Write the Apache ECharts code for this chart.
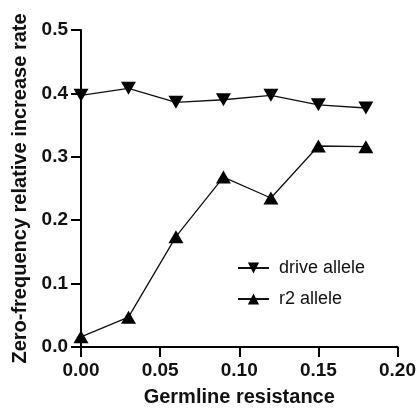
<!DOCTYPE html>
<html>
<head>
<meta charset="utf-8">
<script src="https://cdn.jsdelivr.net/npm/echarts@6/dist/echarts.min.js"></script>
<style>
  html, body { margin: 0; padding: 0; background: #fff; }
  #chart { width: 419px; height: 414px; }
</style>
</head>
<body>
<div id="chart"></div>
<script>
// Germline resistance levels (x) and the two allele series (y)
const resistance = [0.00, 0.03, 0.06, 0.09, 0.12, 0.15, 0.18];
const driveAllele = [0.397, 0.408, 0.386, 0.390, 0.397, 0.382, 0.377];
const r2Allele = [0.016, 0.047, 0.174, 0.268, 0.235, 0.317, 0.316];

const seriesNames = ['drive allele', 'r2 allele'];
const downTriangle = 'path://M0,0 L10,0 L5,9 Z';
const upTriangle = 'path://M5,0 L10,9 L0,9 Z';

const font = 'Liberation Sans, Arial, sans-serif';
const chart = echarts.init(document.getElementById('chart'));

function pairs(ys) {
  return resistance.map((x, i) => [x, ys[i]]);
}

function axis(isX) {
  return {
    type: 'value',
    min: 0,
    max: isX ? 0.2 : 0.5,
    interval: isX ? 0.05 : 0.1,
    name: isX ? 'Germline resistance' : 'Zero-frequency relative increase rate',
    nameLocation: 'middle',
    nameGap: isX ? 40 : 51,
    nameTextStyle: { fontFamily: font, fontSize: 20, fontWeight: 'bold', color: '#111' },
    axisLine: { show: true, lineStyle: { color: '#000', width: 2 } },
    axisTick: { show: true, length: 10, lineStyle: { color: '#000', width: 2 } },
    axisLabel: {
      fontFamily: font, fontSize: 19, fontWeight: 'bold', color: '#111',
      margin: isX ? 14 : 13,
      formatter: v => v.toFixed(isX ? 2 : 1)
    },
    splitLine: { show: false }
  };
}

chart.setOption({
  animation: false,
  grid: { left: 81, right: 19, top: 30, bottom: 67 },
  legend: {
    left: 232,
    top: 254,
    orient: 'vertical',
    itemGap: 13,
    itemWidth: 31,
    itemHeight: 14,
    textStyle: { fontFamily: font, fontSize: 18, color: '#111', padding: [0, 0, 0, 5] },
    data: seriesNames
  },
  xAxis: axis(true),
  yAxis: axis(false),
  series: [
    {
      name: seriesNames[0],
      type: 'line',
      data: pairs(driveAllele),
      symbol: downTriangle,
      symbolSize: [15, 13],
      itemStyle: { color: '#000' },
      lineStyle: { color: '#111', width: 1.3 }
    },
    {
      name: seriesNames[1],
      type: 'line',
      data: pairs(r2Allele),
      symbol: upTriangle,
      symbolSize: [15, 13],
      itemStyle: { color: '#000' },
      lineStyle: { color: '#111', width: 1.3 }
    }
  ]
});
</script>
</body>
</html>
